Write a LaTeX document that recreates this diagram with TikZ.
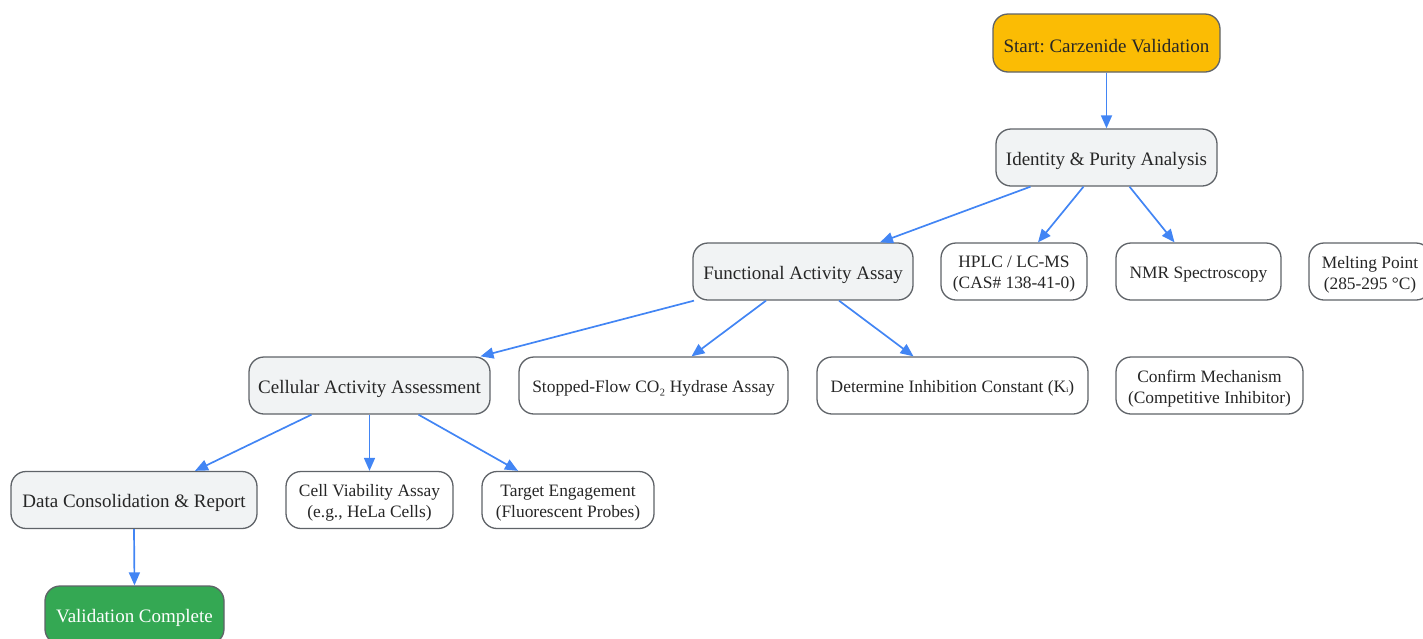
\documentclass[tikz,border=0pt]{standalone}
\usepackage{fontspec}
\setmainfont{Liberation Serif}
\newfontfamily\dvs{DejaVu Serif}
\usetikzlibrary{arrows.meta}
\frenchspacing
\definecolor{startfill}{HTML}{FBBC04}
\definecolor{greyfill}{HTML}{F1F3F4}
\definecolor{endfill}{HTML}{34A853}
\definecolor{edgeblue}{HTML}{4285F4}
\definecolor{border}{HTML}{5F6368}
\definecolor{txt}{HTML}{262626}
\tikzset{
  box/.style={draw=border, line width=1.3pt, rounded corners=15pt, inner sep=0pt, minimum height=57pt},
  greybox/.style={box, fill=greyfill},
  whitebox/.style={box, fill=white},
  startbox/.style={box, fill=startfill},
  endbox/.style={box, fill=endfill},
  bigtxt/.style={align=center, text=txt, inner sep=0pt, font=\fontsize{19}{21}\selectfont},
  smalltxt/.style={align=center, text=txt, inner sep=0pt, font=\fontsize{17.4}{21}\selectfont},
  arr/.style={draw=edgeblue, line width=1.7pt, -{Triangle[length=13pt,width=11pt]}},
}
\begin{document}
\begin{tikzpicture}[x=1pt,y=-1pt]
\useasboundingbox (0,0) rectangle (1423,638);
% boxes
\node[startbox, minimum width=227pt, minimum height=58pt] (start) at (1106.5,43) {};
\node[greybox, minimum width=221pt] (ident) at (1106.5,157.5) {};
\node[greybox, minimum width=220pt] (func) at (803,271.5) {};
\node[whitebox, minimum width=146pt] (hplc) at (1014,271.5) {};
\node[whitebox, minimum width=165pt] (nmr) at (1198.5,271.5) {};
\node[whitebox, minimum width=122pt] (melt) at (1370,271.5) {};
\node[greybox, minimum width=241pt] (cell) at (369.5,385.5) {};
\node[whitebox, minimum width=269pt] (stop) at (653.5,385.5) {};
\node[whitebox, minimum width=271pt] (ki) at (952.5,385.5) {};
\node[whitebox, minimum width=187pt] (mech) at (1209.5,385.5) {};
\node[greybox, minimum width=246pt] (data) at (134,500) {};
\node[whitebox, minimum width=167pt] (viab) at (369.5,500) {};
\node[whitebox, minimum width=172pt] (targ) at (568,500) {};
\node[endbox, minimum width=179pt, minimum height=58pt] (done) at (134.5,615) {};
% texts
\node[bigtxt] (start-t) at ([yshift=-3pt]start.center) {Start: Carzenide Validation};
\node[bigtxt] (ident-t) at ([yshift=-3pt]ident.center) {Identity \& Purity Analysis};
\node[bigtxt] (func-t) at ([yshift=-3pt]func.center) {Functional Activity Assay};
\node[smalltxt] (hplc-t) at ([yshift=-3pt]hplc.center) {HPLC / LC-MS\\(CAS\# 138-41-0)};
\node[smalltxt] (nmr-t) at ([yshift=-3pt]nmr.center) {NMR Spectroscopy};
\node[smalltxt] (melt-t) at ([yshift=-3pt]melt.center) {Melting Point\\(285-295 °C)};
\node[bigtxt] (cell-t) at ([yshift=-3pt]cell.center) {Cellular Activity Assessment};
\node[smalltxt] (stop-t) at ([yshift=-3pt]stop.center) {Stopped-Flow CO₂ Hydrase Assay};
\node[smalltxt] (ki-t) at ([yshift=-3pt]ki.center) {Determine Inhibition Constant (K{\dvs\fontsize{12}{12}\selectfont ᵢ})};
\node[smalltxt] (mech-t) at ([yshift=-3pt]mech.center) {Confirm Mechanism\\(Competitive Inhibitor)};
\node[bigtxt] (data-t) at ([yshift=-3pt]data.center) {Data Consolidation \& Report};
\node[smalltxt] (viab-t) at ([yshift=-3pt]viab.center) {Cell Viability Assay\\(e.g., HeLa Cells)};
\node[smalltxt] (targ-t) at ([yshift=-3pt]targ.center) {Target Engagement\\(Fluorescent Probes)};
\node[bigtxt, text=white] (done-t) at ([yshift=-3pt]done.center) {Validation Complete};
% edges
\draw[arr] (start.south) -- (ident.north);
\draw[arr] ([xshift=-76pt]ident.south) -- ([xshift=77pt]func.north);
\draw[arr] ([xshift=-23pt]ident.south) -- ([xshift=24pt]hplc.north);
\draw[arr] ([xshift=23pt]ident.south) -- ([xshift=-24pt]nmr.north);
\draw[arr] ([xshift=-109pt]func.south) -- ([xshift=111pt]cell.north);
\draw[arr] ([xshift=-37pt]func.south) -- ([xshift=38pt]stop.north);
\draw[arr] ([xshift=36pt]func.south) -- ([xshift=-39pt]ki.north);
\draw[arr] ([xshift=-58pt]cell.south) -- ([xshift=61pt]data.north);
\draw[arr] (cell.south) -- (viab.north);
\draw[arr] ([xshift=49pt]cell.south) -- ([xshift=-50pt]targ.north);
\draw[arr] (data.south) -- (done.north);
\end{tikzpicture}
\end{document}
